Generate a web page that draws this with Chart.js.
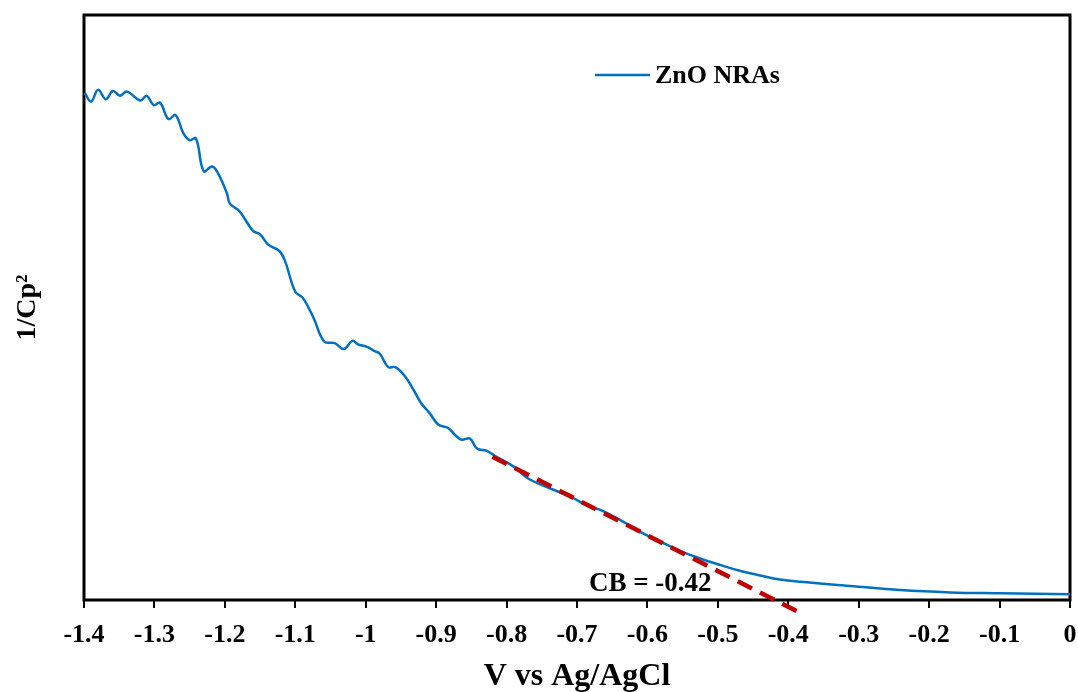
<!DOCTYPE html>
<html>
<head>
<meta charset="utf-8">
<script src="https://cdn.jsdelivr.net/npm/chart.js@4"></script>
<style>
  body { margin: 0; background: #fff; }
  #wrap { width: 1078px; height: 692px; }
</style>
</head>
<body>
<div id="wrap"><canvas id="myChart"></canvas></div>
<script>
// Mott-Schottky curve of ZnO NRAs (y in arbitrary units, 0..100)
const voltage = [-1.399, -1.390, -1.380, -1.369, -1.359, -1.349, -1.339, -1.320, -1.311, -1.301,
  -1.292, -1.280, -1.270, -1.259, -1.250, -1.241, -1.230, -1.218, -1.210, -1.197,
  -1.193, -1.179, -1.160, -1.150, -1.138, -1.123, -1.115, -1.100, -1.089, -1.074,
  -1.059, -1.044, -1.031, -1.019, -1.011, -0.999, -0.988, -0.980, -0.968, -0.958,
  -0.944, -0.932, -0.921, -0.909, -0.897, -0.883, -0.873, -0.864, -0.852, -0.842,
  -0.828, -0.815, -0.790, -0.767, -0.710, -0.686, -0.667, -0.639, -0.611, -0.582,
  -0.554, -0.525, -0.497, -0.469, -0.440, -0.412, -0.383, -0.312, -0.241, -0.170,
  -0.099, 0.0];
const invCp2 = [86.7, 85.2, 87.2, 85.6, 87.0, 86.2, 86.9, 85.4, 86.2, 84.6,
  85.0, 82.2, 82.9, 79.8, 78.6, 78.9, 73.3, 74.1, 73.0, 69.5,
  67.8, 66.4, 63.1, 62.5, 60.7, 59.7, 58.1, 52.7, 51.6, 48.2,
  44.2, 43.9, 42.9, 44.3, 43.7, 43.3, 42.6, 42.1, 39.8, 39.8,
  38.2, 35.9, 33.6, 31.9, 30.0, 29.4, 28.2, 27.4, 27.6, 25.9,
  25.5, 24.5, 22.8, 20.6, 17.7, 16.2, 15.4, 13.7, 11.7, 10.0,
  8.4, 7.1, 6.0, 5.0, 4.2, 3.5, 3.1, 2.4, 1.7, 1.3,
  1.15, 0.97];

// linear fit (red dashed) extrapolated to the x axis
const fitX = [-0.82, -0.38];
const fitY = [24.5, -2.4];

const xTickValues = [-1.4, -1.3, -1.2, -1.1, -1, -0.9, -0.8, -0.7, -0.6, -0.5, -0.4, -0.3, -0.2, -0.1, 0];
const seriesName = 'ZnO NRAs';
const cbLabel = 'CB = -0.42';
const cbPos = [-0.596, 2.7];

const serif = "'Liberation Serif', 'Times New Roman', serif";

// frame, legend and CB annotation
const extras = {
  id: 'extras',
  beforeDatasetsDraw(chart) {
    const { ctx, chartArea } = chart;
    ctx.save();
    ctx.strokeStyle = '#000';
    ctx.lineWidth = 3;
    ctx.strokeRect(chartArea.left, chartArea.top, chartArea.right - chartArea.left, chartArea.bottom - chartArea.top);
    ctx.restore();
  },
  afterDatasetsDraw(chart) {
    const { ctx, chartArea, scales } = chart;
    ctx.save();
    // legend
    const lx = chartArea.left + 511, ly = chartArea.top + 60;
    ctx.strokeStyle = '#0070C0';
    ctx.lineWidth = 2.5;
    ctx.beginPath();
    ctx.moveTo(lx, ly);
    ctx.lineTo(lx + 55, ly);
    ctx.stroke();
    ctx.fillStyle = '#000';
    ctx.font = 'bold 26px ' + serif;
    ctx.textBaseline = 'middle';
    ctx.textAlign = 'left';
    ctx.fillText(seriesName, lx + 60, ly + 1);
    // CB label
    ctx.font = 'bold 27px ' + serif;
    ctx.textAlign = 'center';
    ctx.fillText(cbLabel, scales.x.getPixelForValue(cbPos[0]), scales.y.getPixelForValue(cbPos[1]));
    ctx.restore();
  }
};

const data = {
  datasets: [
    {
      label: 'fit',
      data: fitX.map((v, i) => ({ x: v, y: fitY[i] })),
      showLine: true,
      borderColor: '#C00000',
      borderWidth: 4.5,
      borderDash: [16, 9],
      pointRadius: 0,
      clip: false,
      order: 0
    },
    {
      label: seriesName,
      data: voltage.map((v, i) => ({ x: v, y: invCp2[i] })),
      showLine: true,
      borderColor: '#0070C0',
      borderWidth: 2.5,
      pointRadius: 0,
      tension: 0.4,
      order: 1
    }
  ]
};

const config = {
  type: 'scatter',
  data: data,
  options: {
    responsive: true,
    maintainAspectRatio: false,
    animation: false,
    layout: { padding: { top: 15, right: 8, left: 0, bottom: 0 } },
    plugins: {
      legend: { display: false },
      tooltip: { enabled: false }
    },
    scales: {
      x: {
        type: 'linear',
        min: -1.4,
        max: 0,
        afterBuildTicks(scale) {
          scale.ticks = xTickValues.map(v => ({ value: v }));
        },
        afterFit(scale) {
          scale.height = 92;
          scale.paddingLeft = 0;
          scale.paddingRight = 0;
        },
        grid: {
          drawOnChartArea: false,
          drawTicks: true,
          tickLength: 8,
          color: '#000',
          lineWidth: 2
        },
        border: { display: false },
        ticks: {
          padding: 12,
          color: '#000',
          font: { family: serif, size: 26, weight: 'bold' },
          callback: v => String(v)
        },
        title: {
          display: true,
          text: 'V vs Ag/AgCl',
          color: '#000',
          font: { family: serif, size: 32, weight: 'bold', lineHeight: 1 },
          padding: { top: 0, bottom: -1 }
        }
      },
      y: {
        min: 0,
        max: 100,
        afterFit(scale) { scale.width = 84; },
        grid: { display: false },
        border: { display: false },
        ticks: { display: false },
        title: {
          display: true,
          text: '1/Cp²',
          color: '#000',
          font: { family: serif, size: 28, weight: 'bold', lineHeight: 1 },
          padding: { top: 14, bottom: 0 }
        }
      }
    }
  },
  plugins: [extras]
};

new Chart(document.getElementById('myChart'), config);
</script>
</body>
</html>
